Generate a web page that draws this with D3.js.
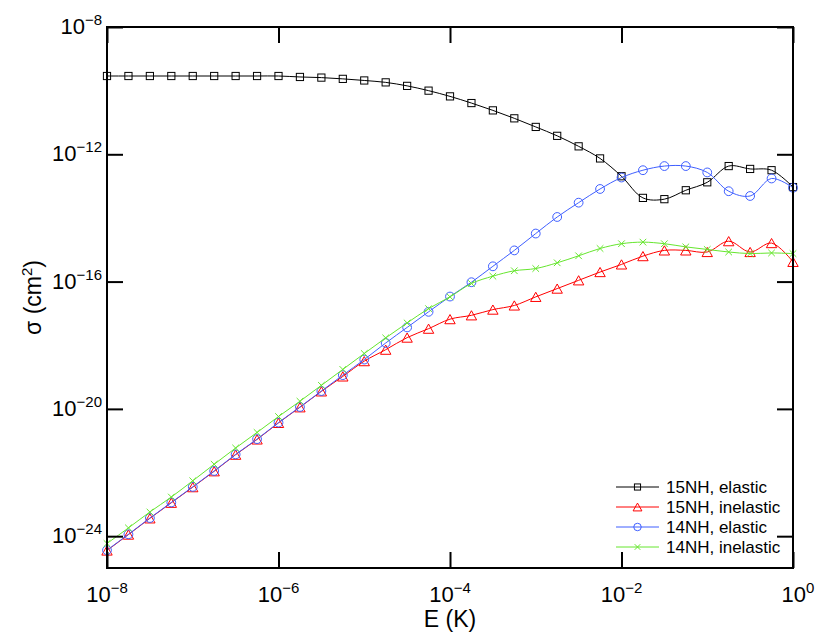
<!DOCTYPE html>
<html>
<head>
<meta charset="utf-8">
<script src="https://cdn.jsdelivr.net/npm/d3@7"></script>
<style>
  body { margin: 0; background: #fff; }
  svg { display: block; font-family: "Liberation Sans", Arial, sans-serif; }
</style>
</head>
<body>
<div id="svg-container"></div>
<script>
////////////////////////////////////////////////////////////////////
////////////////////////////  Data  ////////////////////////////////
// log10 of energy (K), 4 points per decade
const logE = [-8, -7.75, -7.5, -7.25, -7, -6.75, -6.5, -6.25, -6, -5.75, -5.5,
  -5.25, -5, -4.75, -4.5, -4.25, -4, -3.75, -3.5, -3.25, -3, -2.75, -2.5,
  -2.25, -2, -1.75, -1.5, -1.25, -1, -0.75, -0.5, -0.25, 0];

// log10 of cross section (cm^2)
const el15 = [-9.54, -9.54, -9.54, -9.54, -9.54, -9.54, -9.54, -9.54, -9.54,
  -9.57, -9.59, -9.63, -9.68, -9.74, -9.85, -10.0, -10.18, -10.39, -10.62,
  -10.87, -11.14, -11.42, -11.75, -12.13, -12.69, -13.37, -13.41, -13.13,
  -12.88, -12.37, -12.46, -12.5, -13.03];
const inel15 = [-24.45, -23.95, -23.44, -22.95, -22.46, -21.96, -21.44, -20.96,
  -20.44, -19.95, -19.45, -18.98, -18.5, -18.14, -17.76, -17.48, -17.18,
  -17.06, -16.88, -16.75, -16.48, -16.22, -15.96, -15.7, -15.46, -15.2,
  -15.02, -15.02, -15.07, -14.73, -15.07, -14.79, -15.38];
const el14 = [-24.44, -23.94, -23.43, -22.94, -22.45, -21.95, -21.43, -20.95,
  -20.43, -19.94, -19.44, -18.94, -18.45, -17.93, -17.44, -16.95, -16.47,
  -16.02, -15.52, -15.02, -14.49, -13.97, -13.52, -13.09, -12.73, -12.5,
  -12.37, -12.37, -12.57, -13.16, -13.31, -12.76, -13.05];
const inel14 = [-24.23, -23.74, -23.24, -22.77, -22.26, -21.74, -21.23, -20.74,
  -20.24, -19.76, -19.26, -18.76, -18.26, -17.77, -17.3, -16.85, -16.48,
  -16.06, -15.83, -15.66, -15.59, -15.41, -15.19, -14.96, -14.81, -14.76,
  -14.81, -14.91, -14.99, -15.07, -15.12, -15.1, -15.12];

const seriesNames = ["15NH, elastic", "15NH, inelastic", "14NH, elastic", "14NH, inelastic"];
const seriesColors = ["#000000", "#ff0000", "#3f5fff", "#66e62e"];
const seriesMarkers = ["square", "triangle", "circle", "cross"];
const seriesValues = [el15, inel15, el14, inel14];

const xTickExp = [-8, -6, -4, -2, 0];
const yTickExp = [-8, -12, -16, -20, -24];

////////////////////////////////////////////////////////////////////
////////////////////////////  Init  ////////////////////////////////
const W = 817, H = 638;
const margin = { top: 27, right: 24, bottom: 70, left: 107 };

const svg = d3.select("#svg-container").append("svg")
  .attr("width", W).attr("height", H);

const xScale = d3.scaleLog()
  .domain([1e-8, 1])
  .range([margin.left, W - margin.right]);
const yScale = d3.scaleLog()
  .domain([1e-25, 1e-8])
  .range([H - margin.bottom, margin.top]);

const series = seriesNames.map((name, k) => ({
  name,
  color: seriesColors[k],
  marker: seriesMarkers[k],
  points: seriesValues[k].map((v, i) => ({ E: Math.pow(10, logE[i]), s: Math.pow(10, v) }))
}));

// marker shapes
function drawMarker(sel, type, color, scale = 1) {
  if (type === "square") {
    const h = 3.6 * scale;
    sel.append("rect").attr("x", -h).attr("y", -h).attr("width", 2 * h).attr("height", 2 * h)
      .attr("fill", "none").attr("stroke", color).attr("stroke-width", 1);
  } else if (type === "triangle") {
    const w = 5.2 * scale, h = 4.6 * scale;
    sel.append("path").attr("d", `M0,${-h}L${w},${h}L${-w},${h}Z`)
      .attr("fill", "none").attr("stroke", color).attr("stroke-width", 1);
  } else if (type === "circle") {
    sel.append("circle").attr("r", 4.4 * scale)
      .attr("fill", "none").attr("stroke", color).attr("stroke-width", 1);
  } else {
    const c = 3.3 * scale;
    sel.append("path").attr("d", `M${-c},${-c}L${c},${c}M${-c},${c}L${c},${-c}`)
      .attr("fill", "none").attr("stroke", color).attr("stroke-width", 1);
  }
}

////////////////////////////////////////////////////////////////////
////////////////////////////  Lines  ///////////////////////////////
const line = d3.line()
  .x((d) => xScale(d.E))
  .y((d) => yScale(d.s))
  .curve(d3.curveCatmullRom.alpha(0.5));

const plot = svg.append("g");

series.forEach((s) => {
  plot.append("path")
    .datum(s.points)
    .attr("d", line)
    .attr("fill", "none")
    .attr("stroke", s.color)
    .attr("stroke-width", 1);

  plot.selectAll(null)
    .data(s.points)
    .enter()
    .append("g")
    .attr("transform", (d) => `translate(${xScale(d.E)},${yScale(d.s)})`)
    .each(function () { drawMarker(d3.select(this), s.marker, s.color); });
});

////////////////////////////////////////////////////////////////////
////////////////////////////  Axes  ////////////////////////////////
const xTicks = xTickExp.map((e) => Math.pow(10, e));
const yTicks = yTickExp.map((e) => Math.pow(10, e));
const tick = 16;

function styleAxis(g) {
  g.select(".domain").remove();
  g.selectAll(".tick line").attr("stroke", "#000").attr("stroke-width", 2);
  g.selectAll(".tick text").remove();
}

svg.append("g").attr("transform", `translate(0,${H - margin.bottom})`)
  .call(d3.axisBottom(xScale).tickValues(xTicks).tickSizeInner(-tick).tickSizeOuter(0)).call(styleAxis);
svg.append("g").attr("transform", `translate(0,${margin.top})`)
  .call(d3.axisTop(xScale).tickValues(xTicks).tickSizeInner(-tick).tickSizeOuter(0)).call(styleAxis);
svg.append("g").attr("transform", `translate(${margin.left},0)`)
  .call(d3.axisLeft(yScale).tickValues(yTicks).tickSizeInner(-tick).tickSizeOuter(0)).call(styleAxis);
svg.append("g").attr("transform", `translate(${W - margin.right},0)`)
  .call(d3.axisRight(yScale).tickValues(yTicks).tickSizeInner(-tick).tickSizeOuter(0)).call(styleAxis);

// frame
svg.append("rect")
  .attr("x", margin.left).attr("y", margin.top)
  .attr("width", W - margin.left - margin.right)
  .attr("height", H - margin.top - margin.bottom)
  .attr("fill", "none").attr("stroke", "#000").attr("stroke-width", 2);

// tick labels 10^n
function powLabel(sel, exp) {
  sel.append("tspan").text("10");
  sel.append("tspan").attr("dy", -9).attr("font-size", 15).text("\u2212" + Math.abs(exp));
}
const label = d3.format("d");

svg.selectAll(null).data(xTickExp).enter().append("text")
  .attr("x", (d) => xScale(Math.pow(10, d)) + (d === 0 ? 5 : 0))
  .attr("y", H - margin.bottom + 34)
  .attr("text-anchor", "middle")
  .attr("font-size", 22)
  .each(function (d) {
    const t = d3.select(this);
    if (d === 0) {
      t.append("tspan").text("10");
      t.append("tspan").attr("dy", -9).attr("font-size", 15).text(label(0));
    } else powLabel(t, d);
  });

svg.selectAll(null).data(yTickExp).enter().append("text")
  .attr("x", margin.left - 5)
  .attr("y", (d) => yScale(Math.pow(10, d)) + 7)
  .attr("text-anchor", "end")
  .attr("font-size", 22)
  .each(function (d) { powLabel(d3.select(this), d); });

// axis titles
svg.append("text")
  .attr("x", (margin.left + W - margin.right) / 2)
  .attr("y", 627)
  .attr("text-anchor", "middle")
  .attr("font-size", 23)
  .text("E (K)");

const yTitle = svg.append("text")
  .attr("transform", `translate(41,${(margin.top + H - margin.bottom) / 2}) rotate(-90)`)
  .attr("text-anchor", "middle")
  .attr("font-size", 23);
yTitle.append("tspan").text("\u03c3 (cm");
yTitle.append("tspan").attr("dy", -9).attr("font-size", 15).text("2");
yTitle.append("tspan").attr("dy", 9).text(")");

////////////////////////////////////////////////////////////////////
////////////////////////////  Legend  //////////////////////////////
const legend = svg.append("g").attr("transform", "translate(616,487)");
const rows = legend.selectAll(null).data(series).enter().append("g")
  .attr("transform", (d, i) => `translate(0,${i * 20})`);
rows.append("line").attr("x1", 0).attr("x2", 43)
  .attr("stroke", (d) => d.color).attr("stroke-width", 1);
rows.append("g").attr("transform", "translate(21.5,0)")
  .each(function (d) { drawMarker(d3.select(this), d.marker, d.color, 0.85); });
rows.append("text").attr("x", 50).attr("y", 6)
  .attr("font-size", 17)
  .text((d) => d.name);
</script>
</body>
</html>
